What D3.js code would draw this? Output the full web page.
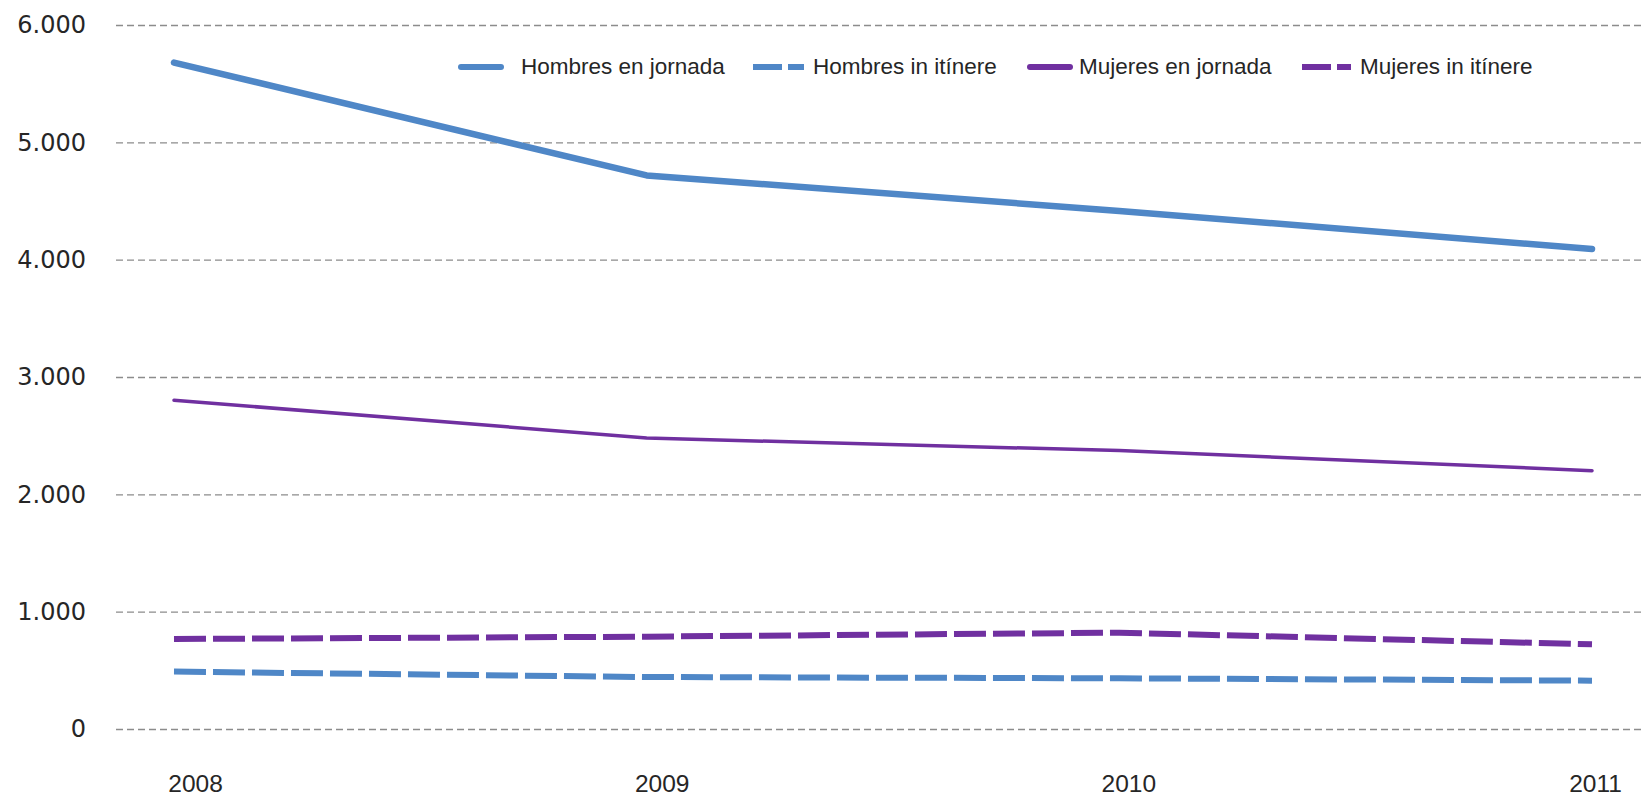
<!DOCTYPE html>
<html>
<head>
<meta charset="utf-8">
<script src="https://cdn.jsdelivr.net/npm/d3@7"></script>
<style>
  html, body { margin: 0; padding: 0; background: #ffffff; }
  svg { display: block; }
</style>
</head>
<body>
<svg id="chart" width="1647" height="808"></svg>
<script>
// ---- Data ----
const years = ["2008", "2009", "2010", "2011"];
const hombresJornada = [5680, 4718, 4415, 4091];
const hombresItinere = [489, 443, 432, 412];
const mujeresJornada = [2802, 2480, 2373, 2202];
const mujeresItinere = [767, 787, 821, 722];
const yTickValues = [0, 1000, 2000, 3000, 4000, 5000, 6000];
const seriesNames = ["Hombres en jornada", "Hombres in itínere", "Mujeres en jornada", "Mujeres in itínere"];

// ---- Styles / layout ----
const BLUE = "#4f87c7";
const PURPLE = "#7030a0";
const series = [
  { name: seriesNames[3], values: mujeresItinere, color: PURPLE, width: 6, dash: "32,7", cap: "butt" },
  { name: seriesNames[1], values: hombresItinere, color: BLUE, width: 6, dash: "32,7", cap: "butt" },
  { name: seriesNames[2], values: mujeresJornada, color: PURPLE, width: 3.5, dash: null, cap: "round" },
  { name: seriesNames[0], values: hombresJornada, color: BLUE, width: 6.5, dash: null, cap: "round" }
];

const svg = d3.select("#chart");
const x = d3.scalePoint().domain(years).range([174, 1592]);
const xLab = d3.scalePoint().domain(years).range([195, 1595]);
const y = d3.scaleLinear().domain([0, 6000]).range([729, 25]);
const fmt = d3.formatLocale({ decimal: ",", thousands: ".", grouping: [3], currency: ["", "€"] }).format(",");

// Gridlines + y labels via axis
const yAxis = d3.axisLeft(y).tickValues(yTickValues).tickFormat(fmt)
  .tickSize(-(1642 - 116)).tickPadding(30);
const gy = svg.append("g").attr("transform", "translate(116,0)").call(yAxis);
gy.select(".domain").remove();
gy.selectAll(".tick line")
  .attr("stroke", "#8c8c8c").attr("stroke-width", 1.4).attr("stroke-dasharray", "7,4");
gy.selectAll(".tick text")
  .attr("font-family", "'DejaVu Sans', sans-serif").attr("font-size", 24)
  .attr("fill", "#262626");

// X labels via axis
const xAxis = d3.axisBottom(xLab).tickSize(0).tickPadding(0);
const gx = svg.append("g").attr("transform", "translate(0,775)").call(xAxis);
gx.select(".domain").remove();
gx.selectAll(".tick text")
  .attr("font-family", "'Liberation Sans', Arial, sans-serif").attr("font-size", 24.5)
  .attr("fill", "#262626");

// Lines
const line = d3.line().x((d, i) => x(years[i])).y(d => y(d));
series.forEach(s => {
  svg.append("path")
    .datum(s.values)
    .attr("d", line)
    .attr("fill", "none")
    .attr("stroke", s.color)
    .attr("stroke-width", s.width)
    .attr("stroke-linecap", s.cap)
    .attr("stroke-linejoin", "round")
    .attr("stroke-dasharray", s.dash);
});

// Legend
const legend = [
  { name: seriesNames[0], color: BLUE, dash: null, cap: "round", lx: 461, lw: 40, tx: 521 },
  { name: seriesNames[1], color: BLUE, dash: "29,6", cap: "butt", lx: 753, lw: 51, tx: 813 },
  { name: seriesNames[2], color: PURPLE, dash: null, cap: "round", lx: 1030, lw: 40, tx: 1079 },
  { name: seriesNames[3], color: PURPLE, dash: "29,6", cap: "butt", lx: 1302, lw: 49, tx: 1360 }
];
const lg = svg.append("g");
legend.forEach(d => {
  lg.append("line")
    .attr("x1", d.lx).attr("x2", d.lx + d.lw)
    .attr("y1", 67).attr("y2", 67)
    .attr("stroke", d.color).attr("stroke-width", 6)
    .attr("stroke-linecap", d.cap)
    .attr("stroke-dasharray", d.dash);
  lg.append("text")
    .attr("x", d.tx).attr("y", 74)
    .attr("font-family", "'Liberation Sans', Arial, sans-serif")
    .attr("font-size", 22.5)
    .attr("fill", "#262626")
    .text(d.name);
});
</script>
</body>
</html>
